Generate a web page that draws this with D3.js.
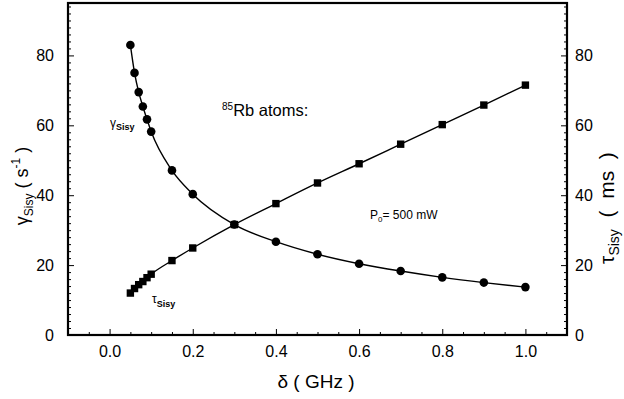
<!DOCTYPE html>
<html>
<head>
<meta charset="utf-8">
<script src="https://cdn.jsdelivr.net/npm/d3@7"></script>
<style>
  body { margin: 0; background: #fff; }
  svg { display: block; font-family: "Liberation Sans", Arial, sans-serif; }
</style>
</head>
<body>
<svg id="chart" width="624" height="399"></svg>
<script>
// ===== DATOS =====
const delta = [0.05, 0.06, 0.07, 0.08, 0.09, 0.1, 0.15, 0.2, 0.3, 0.4, 0.5, 0.6, 0.7, 0.8, 0.9, 1.0];
const gammaSisy = [83, 75, 69.5, 65.4, 61.7, 58.2, 47.1, 40.3, 31.6, 26.7, 23.1, 20.4, 18.3, 16.5, 15.0, 13.7];
const tauSisy = [12.0, 13.3, 14.4, 15.3, 16.4, 17.4, 21.3, 24.9, 31.6, 37.6, 43.5, 49.0, 54.6, 60.2, 65.8, 71.5];
const xTicks = [0.0, 0.2, 0.4, 0.6, 0.8, 1.0];
const yTicks = [0, 20, 40, 60, 80];

// ===== ESCALAS =====
const m = { left: 68, right: 567, top: 3, bottom: 335 };
const x = d3.scaleLinear().domain([-0.1, 1.1]).range([m.left, m.right]);
const y = d3.scaleLinear().domain([0, 95]).range([m.bottom, m.top]);

const svg = d3.select("#chart");

// marco
svg.append("rect")
  .attr("x", m.left).attr("y", m.top)
  .attr("width", m.right - m.left).attr("height", m.bottom - m.top)
  .attr("fill", "none").attr("stroke", "#000").attr("stroke-width", 2.2);

// ===== EJES =====
const fmtX = d3.format(".1f");
const fuente = "Liberation Sans, Arial, sans-serif";

// eje x: ticks hacia dentro
const xMinor = d3.range(-0.05, 1.1, 0.05).filter(v => !xTicks.some(t => Math.abs(t - v) < 1e-6));
svg.append("g")
  .attr("transform", `translate(0,${m.bottom})`)
  .call(d3.axisBottom(x).tickValues(xMinor).tickSize(-3).tickFormat(""))
  .call(g => g.select(".domain").remove());
svg.append("g")
  .attr("transform", `translate(0,${m.bottom})`)
  .call(d3.axisBottom(x).tickValues(xTicks).tickSize(-6).tickPadding(11).tickFormat(fmtX))
  .call(g => g.select(".domain").remove())
  .call(g => g.selectAll("text").attr("font-size", 16).attr("font-family", fuente));

// ejes y (izquierdo y derecho)
const yMinor = d3.range(2, 95, 2).filter(v => v % 20 !== 0);
[["left", m.left], ["right", m.right]].forEach(([lado, pos]) => {
  const eje = lado === "left" ? d3.axisLeft : d3.axisRight;
  svg.append("g")
    .attr("transform", `translate(${pos},0)`)
    .call(eje(y).tickValues(yMinor).tickSize(-3).tickFormat(""))
    .call(g => g.select(".domain").remove());
  svg.append("g")
    .attr("transform", `translate(${pos},0)`)
    .call(eje(y).tickValues(yTicks).tickSize(-6).tickPadding(lado === "left" ? 14 : 8).tickFormat(d3.format("d")))
    .call(g => g.select(".domain").remove())
    .call(g => g.selectAll("text").attr("font-size", 16).attr("font-family", fuente));
});

// ===== CURVAS =====
const puntosG = delta.map((d, i) => [d, gammaSisy[i]]);
const puntosT = delta.map((d, i) => [d, tauSisy[i]]);
const linea = d3.line().x(d => x(d[0])).y(d => y(d[1])).curve(d3.curveMonotoneX);

svg.append("path").attr("d", linea(puntosG))
  .attr("fill", "none").attr("stroke", "#000").attr("stroke-width", 1.4);
svg.append("path").attr("d", linea(puntosT))
  .attr("fill", "none").attr("stroke", "#000").attr("stroke-width", 1.4);

svg.selectAll("circle.g")
  .data(puntosG).enter().append("circle")
  .attr("class", "g")
  .attr("cx", d => x(d[0])).attr("cy", d => y(d[1]))
  .attr("r", 4.3).attr("fill", "#000");

const lado = 7.4;
svg.selectAll("rect.t")
  .data(puntosT).enter().append("rect")
  .attr("class", "t")
  .attr("x", d => x(d[0]) - lado / 2).attr("y", d => y(d[1]) - lado / 2)
  .attr("width", lado).attr("height", lado).attr("fill", "#000");

// ===== TEXTOS =====
const txt = (px, py, size) => svg.append("text")
  .attr("x", px).attr("y", py).attr("font-size", size).attr("fill", "#000");

// etiqueta eje x
txt(316, 388, 19).attr("text-anchor", "middle").text("δ ( GHz )");

// etiqueta eje izquierdo
const izq = svg.append("text")
  .attr("transform", "translate(28,186) rotate(-90)")
  .attr("text-anchor", "middle").attr("font-size", 18);
izq.append("tspan").text("γ");
izq.append("tspan").attr("font-size", 12).attr("dy", 5).text("Sisy");
izq.append("tspan").attr("dy", -5).text(" ( s");
izq.append("tspan").attr("font-size", 12).attr("dy", -8).text("-1");
izq.append("tspan").attr("dy", 8).text(" )");

// etiqueta eje derecho (cortada en el borde como en el original)
const der = svg.append("text")
  .attr("transform", "translate(614,208) rotate(-90)")
  .attr("text-anchor", "middle").attr("font-size", 21)
  .attr("xml:space", "preserve");
der.append("tspan").text("τ");
der.append("tspan").attr("font-size", 14).attr("dy", 5).text("Sisy");
der.append("tspan").attr("dy", -5).text("  (  ms  )");

// rótulos de curvas
const lg = txt(110, 127, 12);
lg.append("tspan").text("γ");
lg.append("tspan").attr("font-size", 9).attr("font-weight", "bold").attr("dy", 3).text("Sisy");

const lt = txt(152, 303, 12);
lt.append("tspan").text("τ");
lt.append("tspan").attr("font-size", 9).attr("font-weight", "bold").attr("dy", 4).text("Sisy");

const rb = txt(222, 116, 16.5);
rb.append("tspan").attr("font-size", 10).attr("dy", -6).text("85");
rb.append("tspan").attr("dy", 6).text("Rb atoms:");

const p0 = txt(370, 219, 12);
p0.append("tspan").text("P");
p0.append("tspan").attr("font-size", 8).attr("dy", 3).text("0");
p0.append("tspan").attr("dy", -3).text("= 500 mW");
</script>
</body>
</html>
